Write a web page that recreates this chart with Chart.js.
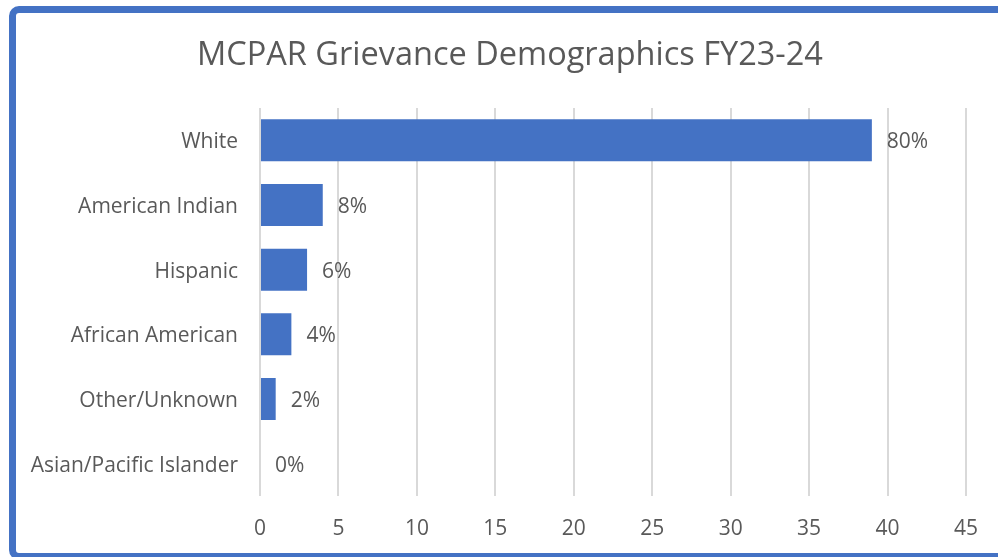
<!DOCTYPE html>
<html>
<head>
<meta charset="utf-8">
<script src="https://cdn.jsdelivr.net/npm/chart.js@4"></script>
<style>
  html, body { margin: 0; padding: 0; background: #ffffff; }
  body { width: 998px; height: 557px; position: relative; overflow: hidden; }
  #frame { position: absolute; left: 9px; top: 6px; width: 1100px; height: 554px; box-sizing: border-box;
           border: 7px solid #4472C4; border-radius: 10px; background: #fff; }
  #wrap { position: absolute; left: 0; top: 0; width: 998px; height: 557px; }
</style>
</head>
<body>
<div id="frame"></div>
<div id="wrap"><canvas id="c" width="998" height="557"></canvas></div>
<script>
const chartTitle = "MCPAR Grievance Demographics FY23-24";
const categories = ["White", "American Indian", "Hispanic", "African American", "Other/Unknown", "Asian/Pacific Islander"];
const counts = [39, 4, 3, 2, 1, 0];
const percentLabels = ["80%", "8%", "6%", "4%", "2%", "0%"];
const xTicks = [0, 5, 10, 15, 20, 25, 30, 35, 40, 45];

const FONT = "'Open Sans', 'Noto Sans', sans-serif";
const TEXT = "#595959";

const titlePlugin = {
  id: 'centerTitle',
  afterDraw(chart) {
    const ctx = chart.ctx;
    ctx.save();
    ctx.font = "32.5px " + FONT;
    ctx.fillStyle = TEXT;
    ctx.textAlign = "center";
    ctx.textBaseline = "middle";
    ctx.fillText(chartTitle, 510, 56);
    ctx.restore();
  }
};

const valueLabels = {
  id: 'valueLabels',
  afterDatasetsDraw(chart) {
    const ctx = chart.ctx;
    const meta = chart.getDatasetMeta(0);
    ctx.save();
    ctx.font = "21px " + FONT;
    ctx.fillStyle = TEXT;
    ctx.textAlign = "left";
    ctx.textBaseline = "middle";
    meta.data.forEach((bar, i) => {
      ctx.fillText(percentLabels[i], bar.x + 15, bar.y + 2);
    });
    ctx.restore();
  }
};

new Chart(document.getElementById('c'), {
  type: 'bar',
  data: {
    labels: categories,
    datasets: [{
      data: counts,
      backgroundColor: '#4472C4',
      borderWidth: 0,
      barPercentage: 0.65,
      categoryPercentage: 1.0
    }]
  },
  plugins: [titlePlugin, valueLabels],
  options: {
    indexAxis: 'y',
    responsive: false,
    animation: false,
    layout: { padding: { top: 108, right: 32, bottom: 0, left: 0 } },
    plugins: { legend: { display: false }, title: { display: false }, tooltip: { enabled: false } },
    scales: {
      x: {
        min: 0, max: 45,
        afterBuildTicks(scale) { scale.ticks = xTicks.map(v => ({ value: v })); },
        afterFit(scale) { scale.height = 61; },
        grid: { color: '#d9d9d9', lineWidth: 2, drawTicks: false },
        border: { display: false },
        ticks: { color: TEXT, font: { family: FONT, size: 21 }, padding: 20, autoSkip: false, maxRotation: 0 }
      },
      y: {
        afterFit(scale) { scale.width = 260; },
        grid: { display: false, drawTicks: false },
        border: { display: false },
        ticks: { color: TEXT, font: { family: FONT, size: 21 }, padding: 22, labelOffset: 2, autoSkip: false }
      }
    }
  }
});
</script>
</body>
</html>
